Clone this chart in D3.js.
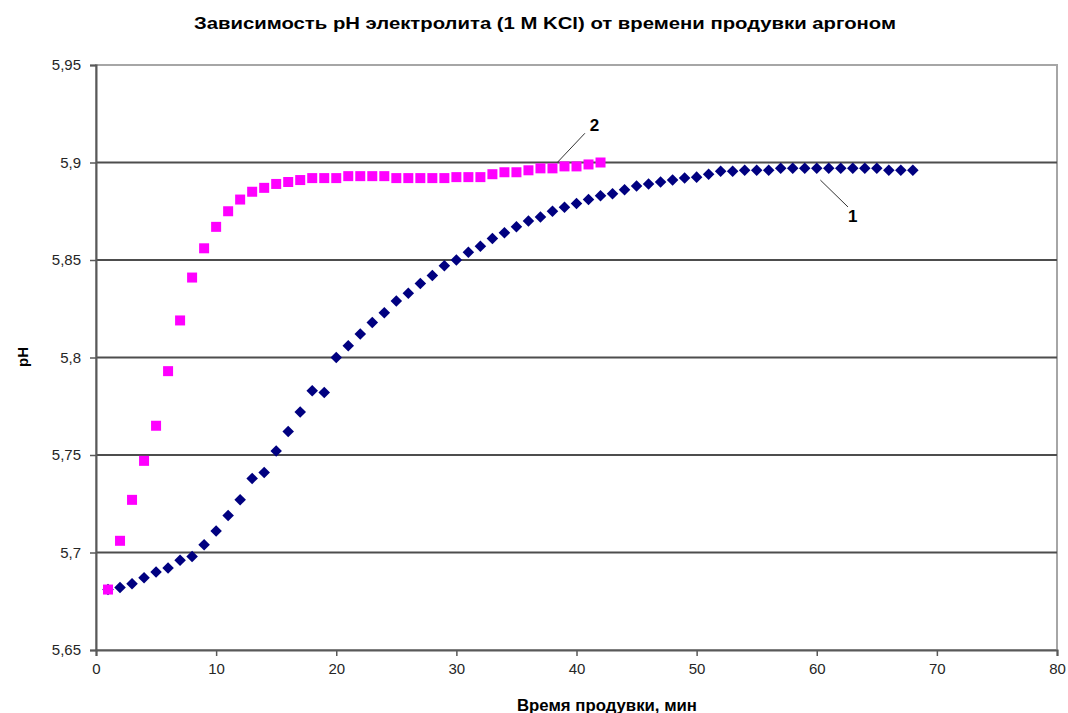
<!DOCTYPE html>
<html>
<head>
<meta charset="utf-8">
<script src="https://cdn.jsdelivr.net/npm/d3@7"></script>
<style>
  html, body { margin: 0; padding: 0; background: #fff; }
  svg text { font-family: "Liberation Sans", Arial, sans-serif; }
</style>
</head>
<body>
<svg id="chart" width="1068" height="713"></svg>
<script>
// Time of argon purge, minutes
const time1 = d3.range(1, 69);
const time2 = d3.range(1, 43);

// Curve 1: pH vs time (diamonds)
const ph1 = [
  5.681, 5.682, 5.684, 5.687, 5.690, 5.692, 5.696, 5.698, 5.704, 5.711,
  5.719, 5.727, 5.738, 5.741, 5.752, 5.762, 5.772, 5.783, 5.782, 5.800,
  5.806, 5.812, 5.818, 5.823, 5.829, 5.833, 5.838, 5.842, 5.847, 5.850,
  5.854, 5.857, 5.861, 5.864, 5.867, 5.870, 5.872, 5.875, 5.877, 5.879,
  5.881, 5.883, 5.884, 5.886, 5.888, 5.889, 5.890, 5.891, 5.892, 5.8925,
  5.894, 5.8955, 5.8955, 5.896, 5.896, 5.896, 5.897, 5.897, 5.897, 5.897,
  5.897, 5.897, 5.897, 5.897, 5.897, 5.896, 5.896, 5.896
];

// Curve 2: pH vs time (squares)
const ph2 = [
  5.681, 5.706, 5.727, 5.747, 5.765, 5.793, 5.819, 5.841, 5.856, 5.867,
  5.875, 5.881, 5.885, 5.887, 5.889, 5.890, 5.891, 5.892, 5.892, 5.892,
  5.893, 5.893, 5.893, 5.893, 5.892, 5.892, 5.892, 5.892, 5.892, 5.8925,
  5.8925, 5.8925, 5.894, 5.895, 5.895, 5.896, 5.897, 5.897, 5.898, 5.898,
  5.899, 5.900
];

const xTicks = [0, 10, 20, 30, 40, 50, 60, 70, 80];
const yTicks = [5.65, 5.7, 5.75, 5.8, 5.85, 5.9, 5.95];

const titleText = "Зависимость pH электролита (1 M KCl) от времени продувки аргоном";
const xTitle = "Время продувки, мин";
const yTitle = "pH";

const svg = d3.select("#chart");
const plot = { left: 96, right: 1057, top: 65, bottom: 650 };

const x = d3.scaleLinear().domain([0, 80]).range([plot.left, plot.right]);
const y = d3.scaleLinear().domain([5.65, 5.95]).range([plot.bottom, plot.top]);

const fmtY = v => d3.format("")(+v.toFixed(2)).replace(".", ",");

// Plot frame (light grey top and right)
svg.append("rect")
  .attr("x", plot.left).attr("y", plot.top)
  .attr("width", plot.right - plot.left).attr("height", plot.bottom - plot.top)
  .attr("fill", "none").attr("stroke", "#a6a6a6").attr("stroke-width", 2);

// Horizontal gridlines
svg.append("g")
  .selectAll("line")
  .data(yTicks.filter(v => v > 5.66 && v < 5.94))
  .join("line")
  .attr("x1", plot.left).attr("x2", plot.right)
  .attr("y1", d => y(d)).attr("y2", d => y(d))
  .attr("stroke", "#4d4d4d").attr("stroke-width", 2);

// Y axis
const yAxis = svg.append("g")
  .attr("transform", `translate(${plot.left},0)`)
  .call(d3.axisLeft(y).tickValues(yTicks).tickFormat(fmtY).tickSize(6).tickPadding(9));
yAxis.select(".domain").attr("stroke", "#595959").attr("stroke-width", 2);
yAxis.selectAll(".tick line").attr("stroke", "#595959").attr("stroke-width", 1.5);
yAxis.selectAll(".tick text")
  .attr("font-size", 15).attr("fill", "#262626")
  .style("font-family", "'Liberation Sans', Arial, sans-serif");

// X axis
const xAxis = svg.append("g")
  .attr("transform", `translate(0,${plot.bottom})`)
  .call(d3.axisBottom(x).tickValues(xTicks).tickFormat(d3.format("d")).tickSize(6).tickPadding(7));
xAxis.select(".domain").attr("stroke", "#595959").attr("stroke-width", 2);
xAxis.selectAll(".tick line").attr("stroke", "#595959").attr("stroke-width", 1.5);
xAxis.selectAll(".tick text")
  .attr("font-size", 15).attr("fill", "#262626")
  .style("font-family", "'Liberation Sans', Arial, sans-serif");

// Curve 1 markers: navy diamonds
const diamond = d3.symbol().type(d3.symbolDiamond2).size(85);
svg.append("g")
  .selectAll("path")
  .data(time1.map((t, i) => [t, ph1[i]]))
  .join("path")
  .attr("d", diamond)
  .attr("transform", d => `translate(${x(d[0])},${y(d[1])})`)
  .attr("fill", "#000080");

// Curve 2 markers: magenta squares
const sq = 10;
svg.append("g")
  .selectAll("rect")
  .data(time2.map((t, i) => [t, ph2[i]]))
  .join("rect")
  .attr("x", d => x(d[0]) - sq / 2)
  .attr("y", d => y(d[1]) - sq / 2)
  .attr("width", sq).attr("height", sq)
  .attr("fill", "#ff00ff");

// Curve labels with leader lines
const labels = [
  { text: "2", from: [38.4, 5.9], to: [40.7, 5.915], tx: 41.5, ty: 5.9162 },
  { text: "1", from: [60.3, 5.891], to: [62.6, 5.8772], tx: 63.0, ty: 5.8695 }
];
svg.append("g").selectAll("line")
  .data(labels)
  .join("line")
  .attr("x1", d => x(d.from[0])).attr("y1", d => y(d.from[1]))
  .attr("x2", d => x(d.to[0])).attr("y2", d => y(d.to[1]))
  .attr("stroke", "#333").attr("stroke-width", 1);
svg.append("g").selectAll("text")
  .data(labels)
  .join("text")
  .attr("x", d => x(d.tx)).attr("y", d => y(d.ty))
  .attr("font-size", 17).attr("font-weight", "bold")
  .attr("text-anchor", "middle")
  .text(d => d.text);

// Titles
svg.append("text")
  .attr("x", 545).attr("y", 29)
  .attr("text-anchor", "middle")
  .attr("font-size", 17).attr("font-weight", "bold")
  .attr("textLength", 702).attr("lengthAdjust", "spacingAndGlyphs")
  .text(titleText);

svg.append("text")
  .attr("x", 607).attr("y", 711)
  .attr("text-anchor", "middle")
  .attr("font-size", 16).attr("font-weight", "bold")
  .attr("textLength", 180).attr("lengthAdjust", "spacingAndGlyphs")
  .text(xTitle);

svg.append("text")
  .attr("transform", "translate(28,357) rotate(-90)")
  .attr("text-anchor", "middle")
  .attr("font-size", 15).attr("font-weight", "bold")
  .text(yTitle);
</script>
</body>
</html>
